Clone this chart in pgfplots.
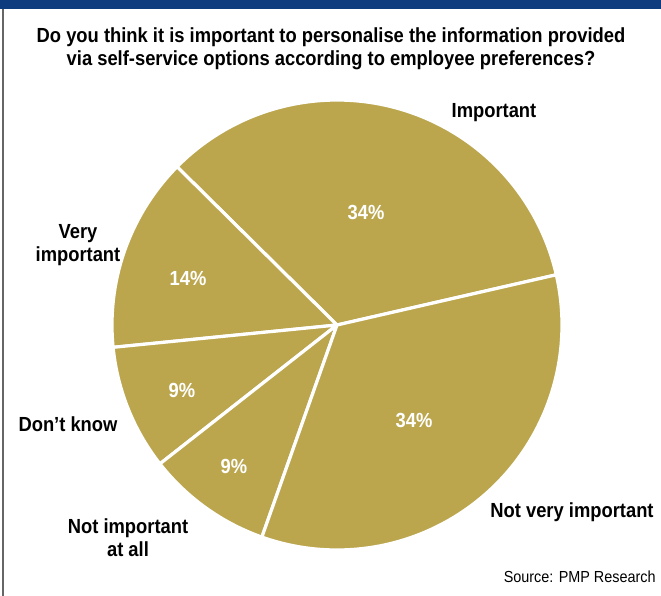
\documentclass[border=0pt]{standalone}
\usepackage{fontspec}
\setmainfont{Liberation Sans}[FakeStretch=0.9]
\usepackage{pgfplots}
\usepackage{pgfplotstable}
\pgfplotsset{compat=1.18}
\definecolor{gold}{HTML}{BBA64E}
\definecolor{navy}{HTML}{0E3A7E}
\pgfplotstableread{
label pct
Important 34
VeryImportant 14
DontKnow 9
NotAtAll 9
NotVery 34
}\slices
\begin{document}
\begin{tikzpicture}[lbl/.style={font=\fontsize{10.2}{11.5}\selectfont\bfseries, align=center, inner sep=0pt}]
\pgfmathsetmacro\aO{12.9}%
\pgfplotstablegetelem{0}{pct}\of\slices\pgfmathsetmacro\aI{\aO+3.6*\pgfplotsretval}%
\pgfplotstablegetelem{1}{pct}\of\slices\pgfmathsetmacro\aII{\aI+3.6*\pgfplotsretval}%
\pgfplotstablegetelem{2}{pct}\of\slices\pgfmathsetmacro\aIII{\aII+3.6*\pgfplotsretval}%
\pgfplotstablegetelem{3}{pct}\of\slices\pgfmathsetmacro\aIV{\aIII+3.6*\pgfplotsretval}%
\pgfplotstablegetelem{4}{pct}\of\slices\pgfmathsetmacro\aV{\aIV+3.6*\pgfplotsretval}%
\begin{axis}[width=330.5pt,height=298pt,scale only axis,hide axis,
  at={(0,0)},anchor=south west,
  xmin=0,xmax=661,ymin=0,ymax=596,y dir=reverse,clip=false]
\fill[white] (axis cs:0,0) rectangle (axis cs:661,596);
\fill[navy] (axis cs:0,0) rectangle (axis cs:661,9);
\draw[black!60, line width=0.7pt] (axis cs:3,9) -- (axis cs:3,596);
\pgfplotsset{slice/.style={fill=gold, draw=white, line width=1.6pt, line join=round, samples=90}}
\addplot[slice, domain=\aO:\aI]   ({337+225*cos(x)},{325-225*sin(x)}) -- (axis cs:337,325) -- cycle;
\addplot[slice, domain=\aI:\aII]  ({337+225*cos(x)},{325-225*sin(x)}) -- (axis cs:337,325) -- cycle;
\addplot[slice, domain=\aII:\aIII]({337+225*cos(x)},{325-225*sin(x)}) -- (axis cs:337,325) -- cycle;
\addplot[slice, domain=\aIII:\aIV]({337+225*cos(x)},{325-225*sin(x)}) -- (axis cs:337,325) -- cycle;
\addplot[slice, domain=\aIV:\aV]  ({337+225*cos(x)},{325-225*sin(x)}) -- (axis cs:337,325) -- cycle;
\node[lbl] at (axis cs:331,49) {Do you think it is important to personalise the information provided\\via self-service options according to employee preferences?};
\node[lbl] at (axis cs:494,113) {Important};
\node[lbl] at (axis cs:78,245) {Very\\important};
\node[lbl] at (axis cs:68,424) {Don’t know};
\node[lbl] at (axis cs:128,538) {Not important\\at all};
\node[lbl] at (axis cs:572,512) {Not very important};
\node[lbl,text=white] at (axis cs:366,212) {34\%};
\node[lbl,text=white] at (axis cs:188,278) {14\%};
\node[lbl,text=white] at (axis cs:182,390) {9\%};
\node[lbl,text=white] at (axis cs:234,466) {9\%};
\node[lbl,text=white] at (axis cs:414,420) {34\%};
\node[lbl,anchor=east, font=\fontsize{8}{9.6}\selectfont] at (axis cs:656,577) {Source: PMP Research};
\end{axis}
\pgfresetboundingbox
\path (0,0) rectangle (330.5pt,298pt);
\end{tikzpicture}
\end{document}
